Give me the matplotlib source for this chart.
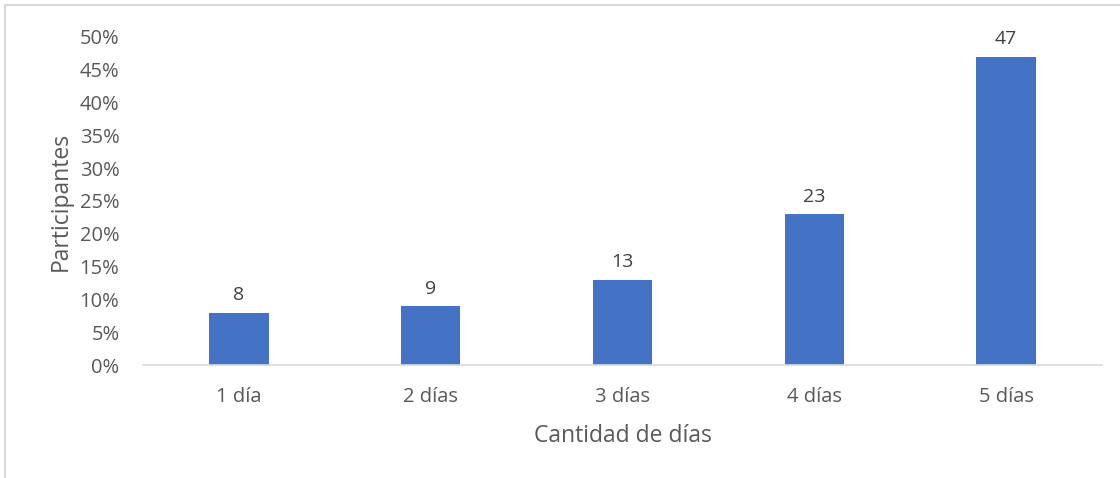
import matplotlib.pyplot as plt
from matplotlib.patches import Rectangle
from matplotlib.ticker import PercentFormatter

categorias = ['1 día', '2 días', '3 días', '4 días', '5 días']
porcentajes = [8, 9, 13, 23, 47]

plt.rcParams['font.family'] = ['Open Sans', 'DejaVu Sans']

fig = plt.figure(figsize=(11.2, 4.78), dpi=100)
ax = fig.add_axes([0.1277, 0.2364, 0.984 - 0.1277, 0.9226 - 0.2364])

x = range(len(categorias))
barras = ax.bar(x, porcentajes, width=0.31, color='#4472C4')
for b, v in zip(barras, porcentajes):
    ax.annotate(str(v), (b.get_x() + b.get_width() / 2, v), xytext=(0, 6),
                textcoords='offset points', ha='center', va='bottom',
                fontsize=14, color='#404040')

ax.set_xlim(-0.5, len(categorias) - 0.5)
ax.set_ylim(0, 50)
ax.set_yticks(range(0, 51, 5))
ax.yaxis.set_major_formatter(PercentFormatter(decimals=0))
ax.set_xticks(list(x))
ax.set_xticklabels(categorias)

for s in ['top', 'right', 'left']:
    ax.spines[s].set_visible(False)
ax.spines['bottom'].set_color('#D9D9D9')
ax.spines['bottom'].set_linewidth(1.2)
ax.tick_params(axis='both', length=0, labelsize=14.5, colors='#595959')
ax.tick_params(axis='y', pad=17)
ax.tick_params(axis='x', pad=16)

ax.set_xlabel('Cantidad de días', fontsize=16.5, color='#595959', labelpad=12)
ax.set_ylabel('Participantes', fontsize=16.5, color='#595959', labelpad=5)

# borde del gráfico
fig.patches.append(Rectangle((5 / 1120, -0.1), 1.2, 1 - 5 / 478 + 0.1, transform=fig.transFigure,
                             fill=False, edgecolor='#D9D9D9', linewidth=1.5))

fig.savefig('out.png', dpi=100)
